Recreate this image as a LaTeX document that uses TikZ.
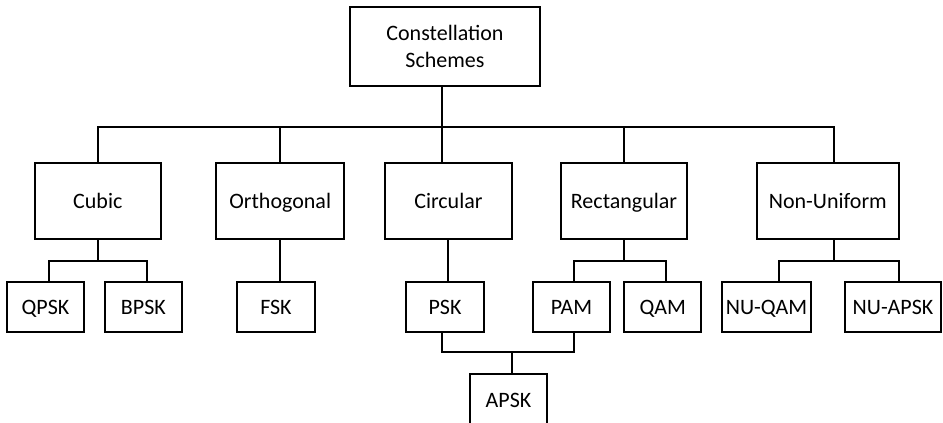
\documentclass[tikz,border=0pt]{standalone}
\usepackage{fontspec}
\setmainfont{Carlito}
\usetikzlibrary{calc}
\begin{document}
\begin{tikzpicture}[x=0.75pt,y=-0.75pt,
  every node/.style={font=\fontsize{16.5}{20}\selectfont},
  box/.style={draw,line width=1.5pt,rectangle,inner sep=0pt,align=center},
  big/.style={box,minimum height=57pt,text height=14pt,text depth=2pt},
  small/.style={box,minimum height=37.5pt,text height=13.5pt,text depth=2pt},
  link/.style={line width=1.5pt,line cap=rect}]
\useasboundingbox (0,0) rectangle (943,423);

% root
\node[box,minimum width=142.5pt,minimum height=59pt] (top) at (445,46.3) {Constellation\\Schemes};

% families
\node[big,minimum width=94.2pt]  (cubic) at (97.8,201)  {Cubic};
\node[big,minimum width=95.6pt]  (orth)  at (280.2,201) {Orthogonal};
\node[big,minimum width=95.1pt]  (circ)  at (448.4,201) {Circular};
\node[big,minimum width=95.2pt]  (rect)  at (624,201)   {Rectangular};
\node[big,minimum width=106.9pt] (nonu)  at (827.8,201) {Non-Uniform};

% schemes
\node[small,minimum width=57.8pt] (qpsk)   at (45.5,306.7)  {QPSK};
\node[small,minimum width=58.2pt] (bpsk)   at (143.4,306.7) {BPSK};
\node[small,minimum width=57.8pt] (fsk)    at (276,306.7)   {FSK};
\node[small,minimum width=57.8pt] (psk)    at (445,306.7)   {PSK};
\node[small,minimum width=58.2pt] (pam)    at (571.6,306.7) {PAM};
\node[small,minimum width=57.8pt] (qam)    at (662.8,306.7) {QAM};
\node[small,minimum width=66.3pt] (nuqam)  at (766.5,306.7) {NU-QAM};
\node[small,minimum width=72.2pt] (nuapsk) at (893,306.7)   {NU-APSK};
\node[small,minimum width=58.2pt,minimum height=39pt,anchor=north] (apsk) at (508.5,373.3) {APSK};

% bus heights
\coordinate (yA) at (0,127);
\coordinate (yB) at (0,261.5);
\coordinate (yC) at (0,351.7);

% root to families
\draw[link] ([xshift=-2.25pt]top.south) -- ([xshift=-2.25pt]top.south |- circ.north);
\draw[link] (cubic.north) |- ([xshift=4.65pt]nonu.north |- yA) -- ([xshift=4.65pt]nonu.north);
\draw[link] (orth.north) -- (orth.north |- yA);
\draw[link] (rect.north) -- (rect.north |- yA);

% cubic
\draw[link] (cubic.south) -- (cubic.south |- yB);
\draw[link] ([xshift=2.4pt]qpsk.north) |- ([xshift=2.4pt]bpsk.north |- yB) -- ([xshift=2.4pt]bpsk.north);

% orthogonal and circular
\draw[link] (orth.south) -- (orth.south |- fsk.north);
\draw[link] (circ.south) -- (circ.south |- psk.north);

% rectangular
\draw[link] (rect.south) -- (rect.south |- yB);
\draw[link] ([xshift=2.1pt]pam.north) |- ([xshift=2.1pt]qam.north |- yB) -- ([xshift=2.1pt]qam.north);

% non-uniform
\draw[link] ([xshift=4.65pt]nonu.south) -- ([xshift=4.65pt]nonu.south |- yB);
\draw[link] ([xshift=9.7pt]nuqam.north) |- ([xshift=4.5pt]nuapsk.north |- yB) -- ([xshift=4.5pt]nuapsk.north);

% PSK and PAM combine into APSK
\draw[link] ([xshift=-2.25pt]psk.south) |- ([xshift=2.1pt]pam.south |- yC) -- ([xshift=2.1pt]pam.south);
\draw[link] ([xshift=2.9pt]apsk.north) -- ([xshift=2.9pt]apsk.north |- yC);
\end{tikzpicture}
\end{document}
